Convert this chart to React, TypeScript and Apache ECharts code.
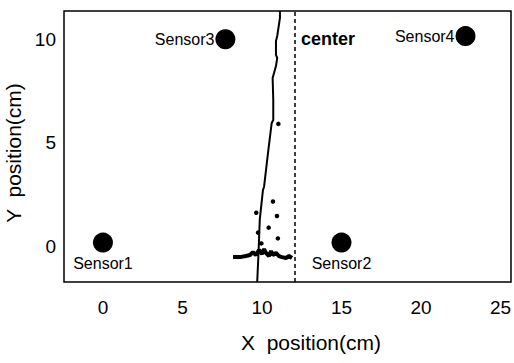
import React, { useEffect, useRef } from "react";
import * as echarts from "echarts";

const xTicks = [0, 5, 10, 15, 20, 25];
const yTicks = [0, 5, 10];
const xRange = [-2.45, 25.66];
const yRange = [-1.7, 11.36];

const sensorNames = ["Sensor1", "Sensor2", "Sensor3", "Sensor4"];
const sensorX = [0, 15, 7.7, 22.8];
const sensorY = [0.2, 0.2, 10, 10.15];

const centerX = 12.08;
const centerLabelY = 10;

const trajX = [9.7, 9.79, 9.86, 10.06, 10.13, 10.4, 10.61, 10.71, 10.71, 10.67, 10.88, 10.96, 10.88, 10.88, 10.96, 11.13, 11.13];
const trajY = [-1.7, -0.16, 1.29, 2.73, 2.88, 4.66, 5.96, 6.11, 7.07, 8.13, 8.71, 9.1, 9.24, 9.92, 10.16, 11.03, 11.36];

const clusterX = [8.18, 8.62, 8.99, 9.25, 9.43, 9.62, 9.81, 10.0, 10.13, 10.25, 10.44, 10.57, 10.69, 10.88, 11.07, 11.26, 11.51, 11.7, 11.89];
const clusterY = [-0.5, -0.5, -0.45, -0.4, -0.26, -0.4, -0.16, -0.35, -0.11, -0.3, -0.45, -0.21, -0.4, -0.3, -0.45, -0.5, -0.54, -0.45, -0.54];

const dotX = [11.03, 10.69, 9.64, 10.94, 9.75, 10.42, 11.0, 9.96];
const dotY = [5.92, 2.18, 1.64, 1.48, 0.68, 0.92, 0.4, 0.16];

const FONT = "'Liberation Sans', Arial, sans-serif";

export default function App() {
  const ref = useRef<HTMLDivElement>(null);
  useEffect(() => {
    if (!ref.current) return;
    const chart = echarts.init(ref.current, null, { renderer: "svg" });
    const sensorLabelPos = ["bottom", "bottom", "left", "left"];
    const option = {
      animation: false,
      backgroundColor: "#ffffff",
      grid: {
        left: 64,
        right: 3,
        top: 11,
        bottom: 81,
        outerBoundsMode: "none",
        containLabel: false,
        show: true,
        borderColor: "#000",
        borderWidth: 1.5,
        backgroundColor: "transparent",
      },
      xAxis: {
        type: "value",
        min: xRange[0],
        max: xRange[1],
        splitLine: { show: false },
        axisLine: { show: false },
        axisTick: { show: false },
        axisLabel: {
          customValues: xTicks,
          color: "#000",
          fontSize: 19,
          fontFamily: FONT,
          margin: 16,
        },
        name: "X  position(cm)",
        nameLocation: "middle",
        nameGap: 50,
        nameTextStyle: { color: "#000", fontSize: 21, fontFamily: FONT, padding: [0, 0, 0, 47] },
      },
      yAxis: {
        type: "value",
        min: yRange[0],
        max: yRange[1],
        splitLine: { show: false },
        axisLine: { show: false },
        axisTick: { show: false },
        axisLabel: {
          customValues: yTicks,
          color: "#000",
          fontSize: 19,
          fontFamily: FONT,
          margin: 8,
        },
        name: "Y  position(cm)",
        nameLocation: "middle",
        nameGap: 29,
        nameTextStyle: { color: "#000", fontSize: 21, fontFamily: FONT, padding: [0, 13, 0, 0] },
      },
      series: [
        {
          type: "line",
          data: trajX.map((x, i) => [x, trajY[i]]),
          symbol: "none",
          lineStyle: { color: "#000", width: 2 },
          markLine: {
            silent: true,
            symbol: "none",
            label: { show: false },
            lineStyle: { color: "#000", width: 1.5, type: [4, 3] },
            data: [{ xAxis: centerX }],
          },
        },
        {
          type: "line",
          data: clusterX.map((x, i) => [x, clusterY[i]]),
          symbol: "none",
          lineStyle: { color: "#000", width: 4 },
        },
        {
          type: "scatter",
          data: dotX.map((x, i) => [x, dotY[i]]),
          symbolSize: 4.5,
          itemStyle: { color: "#000", opacity: 1 },
        },
        {
          type: "scatter",
          data: sensorNames.map((n, i) => ({
            name: n,
            value: [sensorX[i], sensorY[i]],
            label: {
              show: true,
              position: sensorLabelPos[i],
              distance: sensorLabelPos[i] === "left" ? 1 : 3,
              formatter: n,
              color: "#000",
              fontSize: 16,
              fontFamily: FONT,
            },
          })),
          symbolSize: 20,
          itemStyle: { color: "#000", opacity: 1 },
        },
        {
          type: "scatter",
          data: [
            {
              value: [centerX, centerLabelY],
              name: "center",
              label: {
                show: true,
                position: "right",
                distance: 6,
                formatter: "center",
                color: "#000",
                opacity: 1,
                fontSize: 18,
                fontWeight: "bold",
                fontFamily: FONT,
              },
            },
          ],
          symbolSize: 0,
          itemStyle: { color: "#000", opacity: 1 },
        },
      ],
    };
    chart.setOption(option as any);
    return () => chart.dispose();
  }, []);
  return (
    <div
      ref={ref}
      style={{ position: "fixed", left: 0, top: 0, width: 514, height: 363, background: "#fff" }}
    />
  );
}
